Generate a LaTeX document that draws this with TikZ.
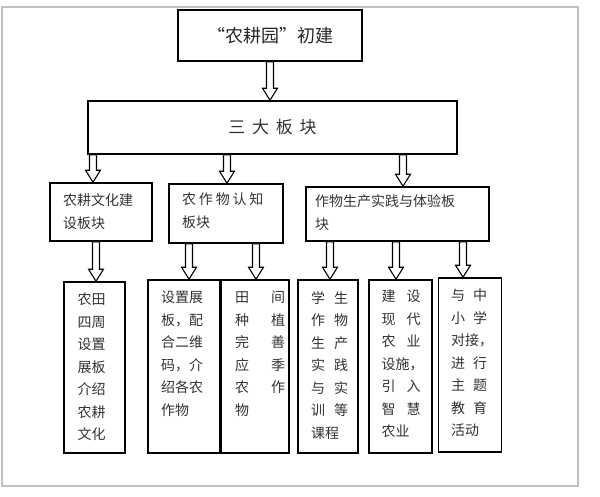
\documentclass[tikz,border=0pt]{standalone}
\usepackage{fontspec}
\setmainfont{Noto Sans CJK SC}
\usetikzlibrary{calc}
\tikzset{
 box/.style={draw=black,line width=1.6pt,inner sep=0pt},
 txt/.style={anchor=north west,inner sep=0pt,align=left,text=black!80,font=\fontsize{14}{22.5}\selectfont},
 htxt/.style={txt,font=\fontsize{14}{23}\selectfont},
 darr/.style={draw=black,line width=1.1pt,fill=white,line join=miter}
}
\newcommand\darrow[2]{\draw[darr] ($(#1)+(-3.5pt,0)$) -- ($(#2)+(-3.5pt,12pt)$) -- ($(#2)+(-7.5pt,12pt)$) -- (#2) -- ($(#2)+(7.5pt,12pt)$) -- ($(#2)+(3.5pt,12pt)$) -- ($(#1)+(3.5pt,0)$) -- cycle;}
\begin{document}
\begin{tikzpicture}[x=1pt,y=-1pt]
\useasboundingbox (0,0) rectangle (600,496);
\draw[black!25,line width=1.5pt] (2,7) rectangle (578,486);
\node[box,minimum width=184pt,minimum height=51pt,font=\fontsize{18}{20}\selectfont,text=black!85] (top) at (270,35.5) {“农耕园”初建};
\node[box,minimum width=369pt,minimum height=53pt,font=\fontsize{17}{20}\selectfont,text=black!80] (mid) at (272.5,127.5) {三\hspace{0.4em}大\hspace{0.4em}板\hspace{0.4em}块};
\node[box,minimum width=102pt,minimum height=58pt] (b1) at (101,212) {};
\node[box,minimum width=114pt,minimum height=59pt] (b2) at (226,213.5) {};
\node[box,minimum width=183pt,minimum height=54pt] (b3) at (397.5,214) {};
\node[htxt] (t1) at (63,193) {农耕文化建\\设板块};
\node[htxt] (t2) at (182,193) {农\hspace{0.2em}作\hspace{0.2em}物\hspace{0.2em}认\hspace{0.2em}知\\板块};
\node[htxt] (t3) at (315,194) {作物生产实践与体验板\\块};
\node[box,minimum width=61pt,minimum height=171pt] (a) at (94.5,367.5) {};
\node[box,minimum width=72pt,minimum height=173pt] (b) at (184,366.5) {};
\node[box,minimum width=68pt,minimum height=173pt] (c) at (255,366.5) {};
\node[box,minimum width=60pt,minimum height=173pt] (d) at (328,366.5) {};
\node[box,minimum width=63pt,minimum height=173pt] (e) at (400.5,366.5) {};
\node[box,minimum width=63pt,minimum height=174pt] (f) at (470,365) {};
\node[txt] (ta) at (77.5,293) {农田\\四周\\设置\\展板\\介绍\\农耕\\文化};
\node[txt] (tb) at (161,291) {设置展\\板，配\\合二维\\码，介\\绍各农\\作物};
\node[txt] (tc) at (235,291) {田\hspace{22pt}间\\种\hspace{22pt}植\\完\hspace{22pt}善\\应\hspace{22pt}季\\农\hspace{22pt}作\\物};
\node[txt] (td) at (311,291) {学\hspace{9pt}生\\作\hspace{9pt}物\\生\hspace{9pt}产\\实\hspace{9pt}践\\与\hspace{9pt}实\\训\hspace{9pt}等\\课程};
\node[txt] (te) at (381.5,290) {建\hspace{11pt}设\\现\hspace{11pt}代\\农\hspace{11pt}业\\设施，\\引\hspace{11pt}入\\智\hspace{11pt}慧\\农业};
\node[txt] (tf) at (451,289) {与\hspace{8pt}中\\小\hspace{8pt}学\\对接，\\进\hspace{8pt}行\\主\hspace{8pt}题\\教\hspace{8pt}育\\活动};
\darrow{top.south}{mid.north -| top.south}
\darrow{mid.south -| 93,0}{b1.north -| 93,0}
\darrow{mid.south -| 227,0}{b2.north -| 227,0}
\darrow{mid.south -| 403,0}{b3.north -| 403,0}
\darrow{b1.south -| 96,0}{a.north -| 96,0}
\darrow{b2.south -| 189,0}{b.north -| 189,0}
\darrow{b2.south -| 256,0}{c.north -| 256,0}
\darrow{b3.south -| 330,0}{d.north -| 330,0}
\darrow{b3.south -| 396,0}{e.north -| 396,0}
\darrow{b3.south -| 463,0}{f.north -| 463,0}
\end{tikzpicture}
\end{document}
